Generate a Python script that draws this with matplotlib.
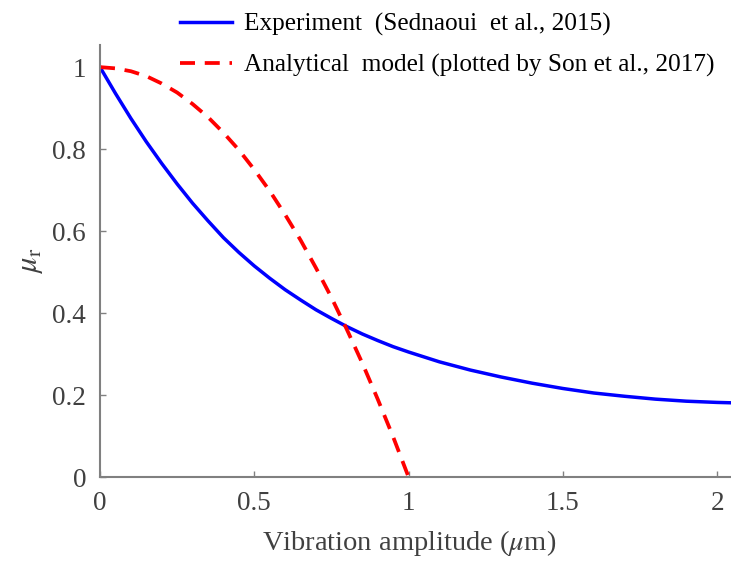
import numpy as np
import matplotlib
matplotlib.use('Agg')
import matplotlib.pyplot as plt

# values
exp_x = [0.0, 0.05, 0.1, 0.15, 0.2, 0.25, 0.3, 0.35, 0.4, 0.45, 0.5,
         0.55, 0.6, 0.65, 0.7, 0.75, 0.8, 0.85, 0.9, 0.95, 1.0,
         1.1, 1.2, 1.3, 1.4, 1.5, 1.6, 1.7, 1.8, 1.9, 2.0, 2.05]
exp_y = [1.0, 0.936, 0.875, 0.818, 0.765, 0.715, 0.668, 0.625, 0.584, 0.548, 0.515,
         0.485, 0.457, 0.432, 0.408, 0.387, 0.367, 0.349, 0.333, 0.318, 0.305,
         0.281, 0.261, 0.244, 0.229, 0.216, 0.205, 0.197, 0.19, 0.185, 0.182, 0.181]

model_x = [0.0, 0.05, 0.1, 0.15, 0.2, 0.25, 0.3, 0.35, 0.4, 0.45, 0.5,
           0.55, 0.6, 0.65, 0.7, 0.75, 0.8, 0.85, 0.9, 0.95, 1.0]
model_y = [1.0, 0.997, 0.99, 0.978, 0.96, 0.938, 0.91, 0.878, 0.84, 0.798, 0.75,
           0.698, 0.64, 0.578, 0.51, 0.438, 0.36, 0.278, 0.19, 0.098, 0.0]

xticks = [0, 0.5, 1, 1.5, 2]
xtick_labels = ['0', '0.5', '1', '1.5', '2']
yticks = [0, 0.2, 0.4, 0.6, 0.8, 1]
ytick_labels = ['0', '0.2', '0.4', '0.6', '0.8', '1']

plt.rcParams['font.family'] = ['Liberation Serif', 'DejaVu Serif']
plt.rcParams['mathtext.fontset'] = 'stix'

fig = plt.figure(figsize=(7.31, 5.61), dpi=100)
ax = fig.add_axes([0.1368, 0.1497, 0.8632, 0.7701])

ax.plot(exp_x, exp_y, color='#0000ff', lw=2.5, label='Experiment  (Sednaoui  et al., 2015)')
ax.plot(model_x, model_y, color='#ff0000', lw=2.7, dashes=(4.0, 2.6),
        label='Analytical  model (plotted by Son et al., 2017)', clip_on=False)

ax.set_xlim(0, 2.045)
ax.set_ylim(0, 1.054)

gray = '#404040'
ax.set_xticks(xticks)
ax.set_xticklabels(xtick_labels)
ax.set_yticks(yticks)
ax.set_yticklabels(ytick_labels)
ax.tick_params(direction='in', length=4, width=1, color='#808080',
               labelsize=19.5, labelcolor=gray)
ax.tick_params(axis='x', pad=10)
ax.tick_params(axis='y', pad=10)

for s in ['top', 'right']:
    ax.spines[s].set_visible(False)
for s in ['left', 'bottom']:
    ax.spines[s].set_color('#808080')
    ax.spines[s].set_linewidth(1.5)

ax.set_xlabel(r'Vibration amplitude ($\mu$m)', fontsize=20.5, color=gray)
ax.xaxis.set_label_coords(0.49, -0.153, transform=ax.transAxes)
ax.xaxis.label.set_va('center')
ax.set_ylabel(r'$\mu_{\rm r}$', fontsize=22, color=gray, labelpad=5)

fig.legend(loc='upper left', bbox_to_anchor=(180 / 731, 1 - 13 / 561),
           frameon=False, fontsize=18.2, handlelength=2.05, handletextpad=0.5,
           labelspacing=0.7, borderpad=0, borderaxespad=0)

fig.savefig('out.png', dpi=100)
